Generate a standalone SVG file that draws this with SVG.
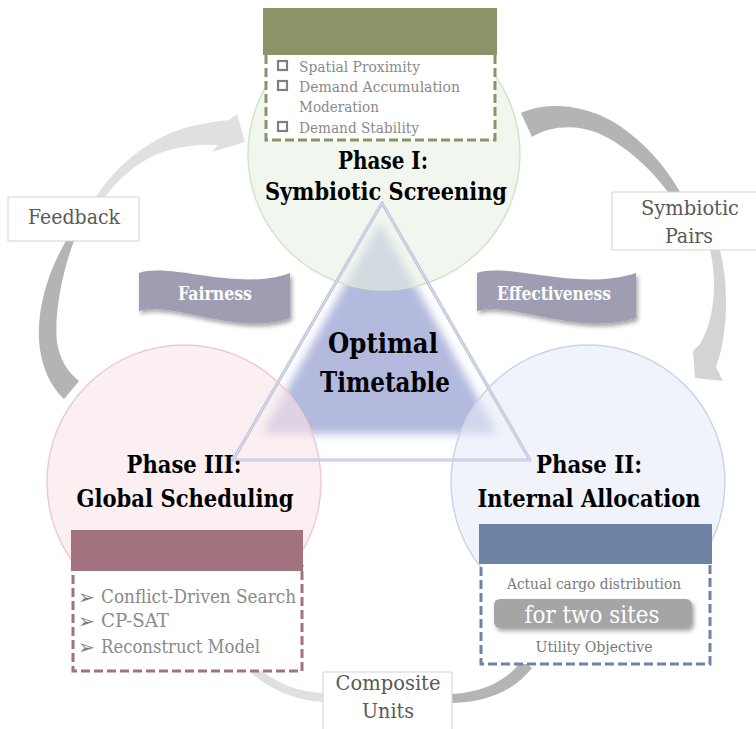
<svg xmlns="http://www.w3.org/2000/svg" width="756" height="729" viewBox="0 0 756 729">
<defs>
<filter id="blur" x="-20%" y="-20%" width="140%" height="140%"><feGaussianBlur stdDeviation="4"/></filter>
<filter id="shadow" x="-10%" y="-20%" width="130%" height="150%"><feDropShadow dx="2" dy="3" stdDeviation="2" flood-color="#000" flood-opacity="0.35"/></filter>
</defs>
<style>
text{font-family:"DejaVu Serif Condensed","DejaVu Serif","Liberation Serif",serif}
.title{font-weight:bold;font-size:25px;fill:#000;text-anchor:middle}
.lbl{font-size:21px;fill:#595959;text-anchor:middle}
.item{font-size:15.5px;fill:#8a8a8a}
.item3{font-size:18.5px;fill:#8a8a8a}
.small{font-size:15.5px;fill:#7a7a7a;text-anchor:middle}
.lbox{fill:#fff;stroke:#d3d3d3;stroke-width:1}
.banner{fill:#9e9db1;filter:url(#shadow)}
.btext{font-weight:bold;font-size:18px;fill:#fff;text-anchor:middle}
.center{font-weight:bold;font-size:27.5px;fill:#000;text-anchor:middle}
.dash{fill:#fff;stroke-width:3;stroke-dasharray:9 4}
.chk{fill:none;stroke:#7f7f7f;stroke-width:2.2}
.dark{fill:#b4b4b4}
.light{fill:#e0e0e0}
.mid{fill:#d4d4d4}
text.arrowglyph{font-family:"DejaVu Sans",sans-serif;font-size:20px;fill:#7f7f7f}
</style>

<g id="connectors">
  <path class="dark" d="M521,113 C545,102 580,104 610,120 C640,137 665,165 680,192 L668,192 C650,168 625,145 598,133 C575,124 550,126 532,137 Z"/>
  <path class="mid" d="M710,250 C716,275 717,315 700,344 L693,351 L695,378 L723,381 L716,367 C728,335 729,285 720,250 Z"/>
  <path class="dark" d="M66,241 L74,241 C62,272 54,315 57,342 C60,360 67,371 79,381 L64,399 C50,386 41,366 39,341 C37,305 50,268 66,241 Z"/>
  <path class="light" d="M96,197 C118,163 152,136 192,126 C206,123 218,121 229,120 L237,114 L245,142 L212,152 L218,145 C200,144 180,146 160,153 C136,163 117,180 105,197 Z"/>
  <path class="dark" d="M522,660 C508,680 485,692 452,694 L452,703 C488,702 515,690 532,668 Z"/>
  <path class="light" d="M323,693 C298,692 278,684 258,668 L250,672 C270,690 298,701 323,702 Z"/>
</g>

<g id="center-fill">
  <polygon points="380,222 262,434 498,434" fill="#b4bade" filter="url(#blur)"/>
</g>

<g id="circles">
  <circle id="circle-phase1" cx="384" cy="154" r="136" fill="#e8f2e3" fill-opacity="0.6" stroke="#d2e4c8" stroke-width="1.5"/>
  <circle id="circle-phase3" cx="184" cy="482" r="137" fill="#f8e4e8" fill-opacity="0.6" stroke="#f0cad1" stroke-width="1.5"/>
  <circle id="circle-phase2" cx="588" cy="482" r="137" fill="#e6ebf6" fill-opacity="0.6" stroke="#cad4ea" stroke-width="1.5"/>
</g>

<g id="center-outline">
  <polygon points="382,203 233,460 530,460" fill="none" stroke="#bfc6dd" stroke-width="3.2" stroke-linejoin="round"/>
  <polygon points="382,203 233,460 530,460" fill="none" stroke="#ffffff" stroke-width="0.8" stroke-opacity="0.6"/>
</g>

<g id="banner-fairness">
  <path class="banner" d="M139,273 C170,262 240,292 290,273 L290,318 C240,337 170,300 139,311 Z"/>
  <text class="btext" x="215" y="300" textLength="74" lengthAdjust="spacingAndGlyphs">Fairness</text>
</g>
<g id="banner-effectiveness">
  <path class="banner" d="M477,273 C508,262 578,292 636,273 L636,318 C578,337 508,300 477,311 Z"/>
  <text class="btext" x="554" y="300" textLength="114" lengthAdjust="spacingAndGlyphs">Effectiveness</text>
</g>

<g id="node-phase1">
  <rect class="dash" x="266" y="50" width="229" height="90" stroke="#8a9467"/>
  <rect x="263" y="8" width="234" height="47" fill="#8a9467"/>
  <rect class="chk" x="278" y="61" width="9" height="9"/>
  <text class="item" x="299" y="72" textLength="121" lengthAdjust="spacingAndGlyphs">Spatial Proximity</text>
  <rect class="chk" x="278" y="81" width="9" height="9"/>
  <text class="item" x="299" y="92" textLength="161" lengthAdjust="spacingAndGlyphs">Demand Accumulation</text>
  <text class="item" x="299" y="112" textLength="80" lengthAdjust="spacingAndGlyphs">Moderation</text>
  <rect class="chk" x="278" y="122" width="9" height="9"/>
  <text class="item" x="299" y="133" textLength="120" lengthAdjust="spacingAndGlyphs">Demand Stability</text>
  <text class="title" x="383" y="169" textLength="90" lengthAdjust="spacingAndGlyphs">Phase I:</text>
  <text class="title" x="386" y="200" textLength="242" lengthAdjust="spacingAndGlyphs">Symbiotic Screening</text>
</g>

<g id="node-phase3">
  <text class="title" x="184" y="473" textLength="115" lengthAdjust="spacingAndGlyphs">Phase III:</text>
  <text class="title" x="185" y="507" textLength="217" lengthAdjust="spacingAndGlyphs">Global Scheduling</text>
  <rect class="dash" x="73" y="566" width="229" height="105" stroke="#a2737f"/>
  <rect x="71" y="530" width="232" height="41" fill="#a2737f"/>
  <text class="arrowglyph" x="78" y="604">➢</text>
  <text class="item3" x="101" y="603" textLength="195" lengthAdjust="spacingAndGlyphs">Conflict-Driven Search</text>
  <text class="arrowglyph" x="78" y="628">➢</text>
  <text class="item3" x="101" y="627" textLength="68" lengthAdjust="spacingAndGlyphs">CP-SAT</text>
  <text class="arrowglyph" x="78" y="654">➢</text>
  <text class="item3" x="101" y="653" textLength="159" lengthAdjust="spacingAndGlyphs">Reconstruct Model</text>
</g>

<g id="node-phase2">
  <text class="title" x="589" y="473" textLength="106" lengthAdjust="spacingAndGlyphs">Phase II:</text>
  <text class="title" x="589" y="507" textLength="223" lengthAdjust="spacingAndGlyphs">Internal Allocation</text>
  <rect class="dash" x="481" y="560" width="229" height="104" stroke="#6e84a4"/>
  <rect x="479" y="524" width="233" height="40" fill="#6e84a4"/>
  <text class="small" x="594" y="589" textLength="174" lengthAdjust="spacingAndGlyphs">Actual cargo distribution</text>
  <rect x="494" y="599" width="198" height="29" rx="6" fill="#a5a5a5" filter="url(#shadow)"/>
  <text x="592" y="623" font-size="24.5" fill="#ffffff" text-anchor="middle" textLength="135" lengthAdjust="spacingAndGlyphs">for two sites</text>
  <text class="small" x="594" y="652" textLength="117" lengthAdjust="spacingAndGlyphs">Utility Objective</text>
</g>

<g id="connector-labels">
  <g id="label-feedback">
    <rect class="lbox" x="8" y="197" width="131" height="44"/>
    <text class="lbl" x="74" y="224" textLength="92" lengthAdjust="spacingAndGlyphs">Feedback</text>
  </g>
  <g id="label-symbiotic-pairs">
    <rect class="lbox" x="612" y="192" width="150" height="58"/>
    <text class="lbl" x="690" y="215" textLength="98" lengthAdjust="spacingAndGlyphs">Symbiotic</text>
    <text class="lbl" x="689" y="243" textLength="48" lengthAdjust="spacingAndGlyphs">Pairs</text>
  </g>
  <g id="label-composite-units">
    <rect class="lbox" x="323" y="672" width="129" height="66"/>
    <text class="lbl" x="388" y="690" textLength="105" lengthAdjust="spacingAndGlyphs">Composite</text>
    <text class="lbl" x="388" y="718" textLength="52" lengthAdjust="spacingAndGlyphs">Units</text>
  </g>
</g>

<g id="node-center">
  <text class="center" x="383" y="353" textLength="110" lengthAdjust="spacingAndGlyphs">Optimal</text>
  <text class="center" x="385" y="392" textLength="130" lengthAdjust="spacingAndGlyphs">Timetable</text>
</g>
</svg>
